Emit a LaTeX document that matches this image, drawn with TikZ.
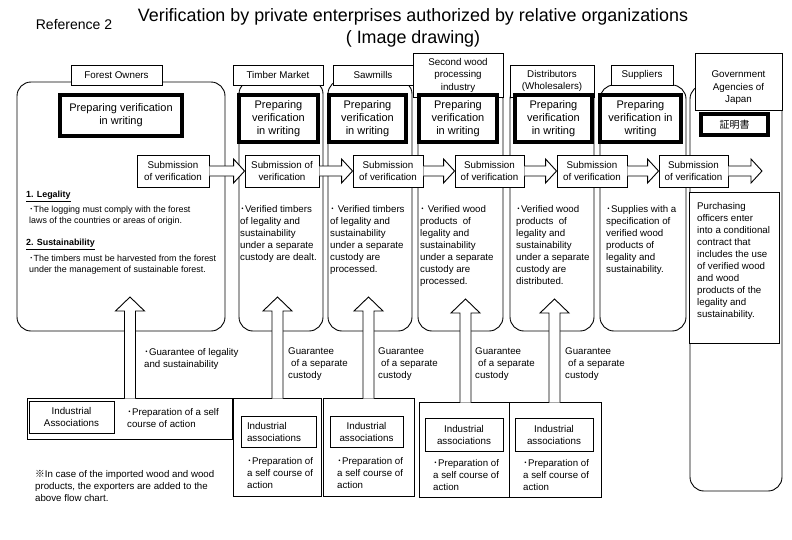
\documentclass[tikz,border=0pt]{standalone}
\usepackage{fontspec}
\setmainfont{Liberation Sans}
\newfontfamily\jpfont{Noto Sans CJK JP}
\usepackage{tikz}
\usetikzlibrary{calc, positioning}
\newcommand{\dotb}{{\jpfont ･}}
\newcommand{\fsz}[2]{\fontsize{#1}{#2}\selectfont}
\tikzset{
  tabbox/.style={rectangle, draw, fill=white, align=center, inner sep=0pt,
    line width=0.9pt, font=\fsz{9.8}{12.5}},
  panel/.style={rectangle, draw, fill=white, rounded corners=14pt, line width=0.9pt},
  prepbox/.style={rectangle, draw, fill=white, align=center, inner sep=0pt,
    line width=4.5pt, font=\fsz{11}{13}},
  subbox/.style={rectangle, draw, fill=white, align=center, inner sep=0pt,
    minimum height=32pt, line width=0.9pt, font=\fsz{9.8}{12}},
  blockarrow/.style={draw, fill=white, line width=0.9pt, line join=miter},
  iabox/.style={rectangle, draw, fill=white, inner sep=0pt, line width=0.9pt},
  iainner/.style={rectangle, draw, align=center, inner sep=0pt, line width=0.9pt,
    font=\fsz{9.8}{12}},
  txt/.style={anchor=north west, align=left, inner sep=0pt, font=\fsz{9.7}{12}},
  smalltxt/.style={anchor=north west, align=left, inner sep=0pt, font=\fsz{8.9}{11}}
}
% block arrow from a submission box to the next one
\newcommand{\subarrow}[2]{%
  \draw[blockarrow] ($(#1.east)+(0,-5)$) -- ($(#2)+(-11,-5)$) -- ($(#2)+(-11,-12)$)
    -- (#2) -- ($(#2)+(-11,12)$) -- ($(#2)+(-11,5)$) -- ($(#1.east)+(0,5)$);}
% block arrow going up from an association box
\newcommand{\guararrow}[2]{%
  \coordinate (foot) at (#2 |- #1.north);
  \draw[blockarrow] ($(foot)+(-5.5,1)$) -- ($(#2)+(-5.5,14)$) -- ($(#2)+(-14.5,14)$)
    -- (#2) -- ($(#2)+(14.5,14)$) -- ($(#2)+(5.5,14)$) -- ($(foot)+(5.5,1)$);}

\begin{document}
\begin{tikzpicture}[x=1pt, y=-1pt]
  \useasboundingbox (0,0) rectangle (792,539);

  % Title
  \node[font=\fsz{14}{16}] (ref) at (74,24) {Reference 2};
  \node[font=\fsz{17.9}{21}] (title) at (413,17) {Verification by private enterprises authorized by relative organizations};
  \node[font=\fsz{17.9}{21}] (subtitle) at (413,39) {( Image drawing)};

  % Panels
  \node[panel, minimum width=208pt, minimum height=249pt] (pforest) at (121,206.5) {};
  \node[panel, minimum width=84pt, minimum height=251pt] (ptimber) at (281,205.5) {};
  \node[panel, minimum width=84pt, minimum height=251pt] (psaw) at (370,205.5) {};
  \node[panel, minimum width=85pt, minimum height=246pt] (psecond) at (460.5,208) {};
  \node[panel, minimum width=84pt, minimum height=246pt] (pdist) at (552,208) {};
  \node[panel, minimum width=86pt, minimum height=246pt] (psupply) at (643,208) {};
  \node[panel, minimum width=92pt, minimum height=406pt] (pgov) at (736,288) {};

  % Tabs
  \node[tabbox, minimum width=91pt, minimum height=20pt] (tforest) at (116.5,75) {Forest Owners};
  \node[tabbox, minimum width=90pt, minimum height=20pt] (ttimber) at (278,75) {Timber Market};
  \node[tabbox, minimum width=80pt, minimum height=20pt] (tsaw) at (373,75) {Sawmills};
  \node[tabbox, minimum width=90pt, minimum height=44pt] (tsecond) at (458,75) {Second wood\\processing\\industry};
  \node[tabbox, minimum width=84pt, minimum height=32pt] (tdist) at (552,81) {Distributors\\(Wholesalers)};
  \node[tabbox, minimum width=62pt, minimum height=20pt] (tsupply) at (642,75) {Suppliers};
  \node[tabbox, minimum width=87pt, minimum height=57pt] (tgov) at (738.5,81.5) {};
  \node[font=\fsz{9.8}{12.5}, align=center] (tgovtx) at (738.5,88) {Government\\Agencies of\\Japan};

  % Preparing verification
  \node[prepbox, minimum width=122pt, minimum height=41pt] (pvforest) at (121,115.5) {Preparing verification\\in writing};
  \node[prepbox, minimum width=79pt, minimum height=47pt] (pvtimber) at (278.5,118.5) {Preparing\\verification\\in writing};
  \node[prepbox, minimum width=77pt, minimum height=47pt] (pvsaw) at (367.5,118.5) {Preparing\\verification\\in writing};
  \node[prepbox, minimum width=78pt, minimum height=47pt] (pvsecond) at (458,118.5) {Preparing\\verification\\in writing};
  \node[prepbox, minimum width=77pt, minimum height=47pt] (pvdist) at (553.5,118.5) {Preparing\\verification\\in writing};
  \node[prepbox, minimum width=81pt, minimum height=47pt] (pvsupply) at (640.5,118.5) {Preparing\\verification in\\writing};
  \node[prepbox, minimum width=67pt, minimum height=21pt, font=\jpfont\fsz{10}{12}] (pvgov) at (734.5,124.5) {証明書};

  % Submission of verification
  \node[subbox, minimum width=72pt] (sforest) at (173,171) {Submission\\of verification};
  \node[subbox, minimum width=74pt] (stimber) at (282,171) {Submission of\\verification};
  \node[subbox, minimum width=70pt] (ssaw) at (388,171) {Submission\\of verification};
  \node[subbox, minimum width=69pt] (ssecond) at (489.5,171) {Submission\\of verification};
  \node[subbox, minimum width=70pt] (sdist) at (592,171) {Submission\\of verification};
  \node[subbox, minimum width=69pt] (ssupply) at (693.5,171) {Submission\\of verification};
  \coordinate (gin) at (762,171);
  \subarrow{sforest}{stimber.west}
  \subarrow{stimber}{ssaw.west}
  \subarrow{ssaw}{ssecond.west}
  \subarrow{ssecond}{sdist.west}
  \subarrow{sdist}{ssupply.west}
  \subarrow{ssupply}{gin}

  % Panel texts
  \node[smalltxt, font=\bfseries\fsz{8.9}{11}] (legal) at (26,191) {\underline{1. Legality}};
  \node[smalltxt] (legaltx) at (29,206) {\dotb The logging must comply with the forest\\laws of the countries or areas of origin.};
  \node[smalltxt, font=\bfseries\fsz{8.9}{11}] (sustain) at (26,239) {\underline{2. Sustainability}};
  \node[smalltxt] (sustaintx) at (29,255) {\dotb The timbers must be harvested from the forest\\under the management of sustainable forest.};
  \node[txt] (tmtext) at (240,205) {\dotb Verified timbers\\of legality and\\sustainability\\under a separate\\custody are dealt.};
  \node[txt] (swtext) at (330,205) {\dotb\ Verified timbers\\of legality and\\sustainability\\under a separate\\custody are\\processed.};
  \node[txt] (sctext) at (420,205) {\dotb\ Verified wood\\products\ \ of\\legality and\\sustainability\\under a separate\\custody are\\processed.};
  \node[txt] (dstext) at (516,205) {\dotb Verified wood\\products\ \ of\\legality and\\sustainability\\under a separate\\custody are\\distributed.};
  \node[txt] (sptext) at (606,205) {\dotb Supplies with a\\specification of\\verified wood\\products of\\legality and\\sustainability.};
  \node[iabox, minimum width=90pt, minimum height=151pt] (gbox) at (734,267.5) {};
  \node[txt] (gvtext) at (697,202) {Purchasing\\officers enter\\into a conditional\\contract that\\includes the use\\of verified wood\\and wood\\products of the\\legality and\\sustainability.};

  % Industrial associations
  \node[iabox, minimum width=205pt, minimum height=41pt] (iaforest) at (129.5,418.5) {};
  \node[iainner, minimum width=85pt, minimum height=32pt] (iaforestin) at (71.5,417) {Industrial\\Associations};
  \node[txt] (iaforesttx) at (127,408) {\dotb Preparation of a self\\course of action};
  \node[iabox, minimum width=88pt, minimum height=98pt] (iatimber) at (277,447) {};
  \node[iainner, align=left, text width=63pt, inner xsep=6pt, minimum height=31pt] (iatimberin) at (278.5,431.5) {Industrial\\associations};
  \node[txt] (iatimbertx) at (247,457) {\dotb Preparation of\\a self course of\\action};
  \node[iabox, minimum width=91pt, minimum height=98pt] (iasaw) at (368.5,447) {};
  \node[iainner, minimum width=73pt, minimum height=31pt] (iasawin) at (366.5,431.5) {Industrial\\associations};
  \node[txt] (iasawtx) at (337,457) {\dotb Preparation of\\a self course of\\action};
  \node[iabox, minimum width=90pt, minimum height=95pt] (iasecond) at (464,449.5) {};
  \node[iainner, minimum width=78pt, minimum height=33pt] (iasecondin) at (464,434.5) {Industrial\\associations};
  \node[txt] (iasecondtx) at (433,459) {\dotb Preparation of\\a self course of\\action};
  \node[iabox, minimum width=92pt, minimum height=95pt] (iadist) at (555,449.5) {};
  \node[iainner, minimum width=78pt, minimum height=33pt] (iadistin) at (554,434.5) {Industrial\\associations};
  \node[txt] (iadisttx) at (523,459) {\dotb Preparation of\\a self course of\\action};

  % Guarantee arrows
  \coordinate (uforest) at (130,297);
  \coordinate (utimber) at (277.5,297);
  \coordinate (usaw) at (368.5,297);
  \coordinate (usecond) at (465.5,299);
  \coordinate (udist) at (554.5,299);
  \guararrow{iaforest}{uforest}
  \guararrow{iatimber}{utimber}
  \guararrow{iasaw}{usaw}
  \guararrow{iasecond}{usecond}
  \guararrow{iadist}{udist}

  \node[txt] (gforest) at (144,348) {\dotb Guarantee of legality\\and sustainability};
  \node[txt] (gtimber) at (288,348) {Guarantee\\\hspace*{3pt}of a separate\\custody};
  \node[txt] (gsaw) at (378,348) {Guarantee\\\hspace*{3pt}of a separate\\custody};
  \node[txt] (gsecond) at (475,348) {Guarantee\\\hspace*{3pt}of a separate\\custody};
  \node[txt] (gdist) at (565,348) {Guarantee\\\hspace*{3pt}of a separate\\custody};

  % Note
  \node[txt] (note) at (35,470) {{\jpfont ※}In case of the imported wood and wood\\products, the exporters are added to the\\above flow chart.};
\end{tikzpicture}
\end{document}
